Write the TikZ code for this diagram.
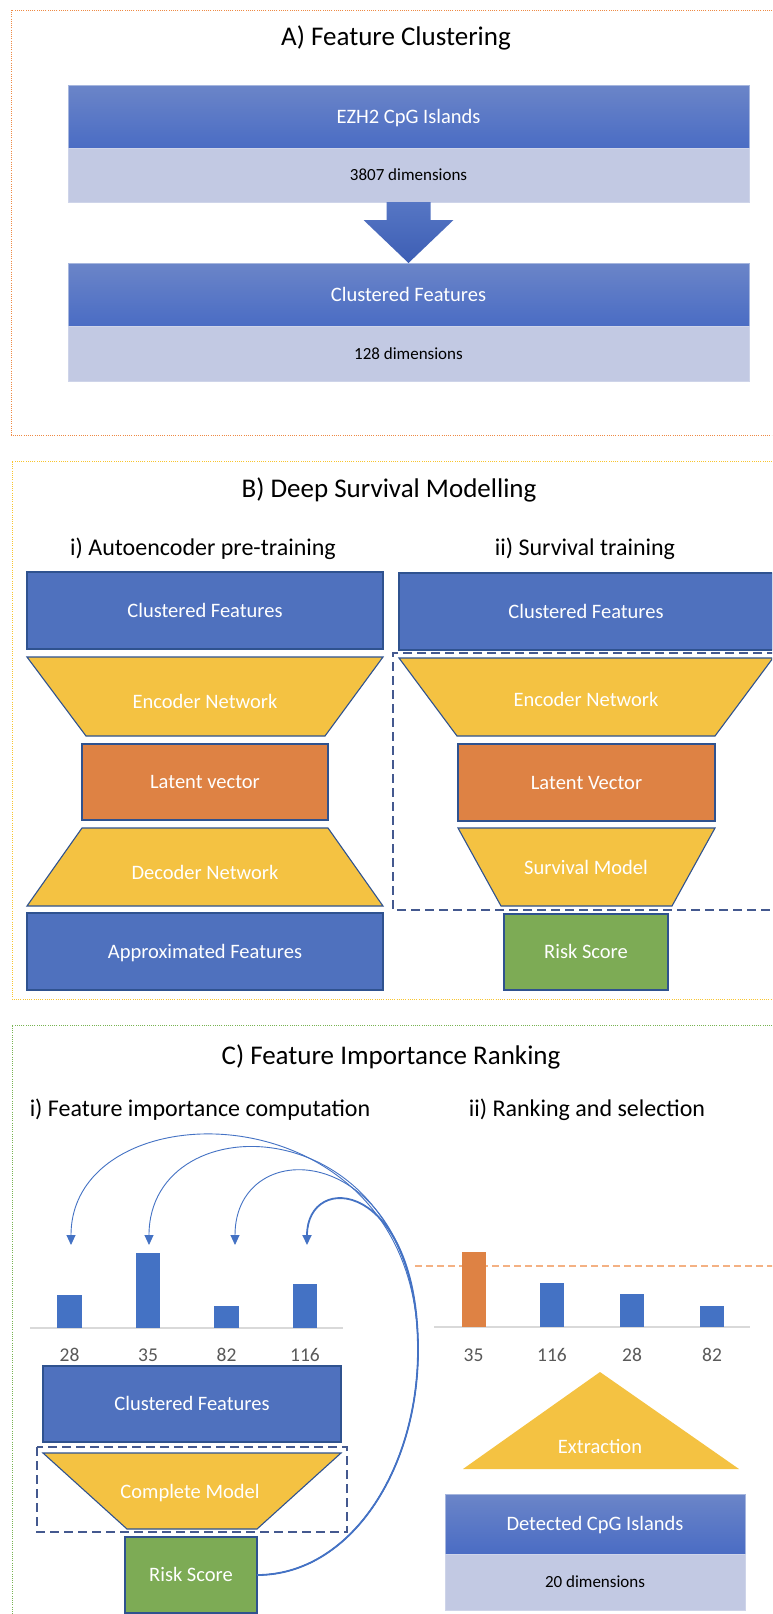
\documentclass[tikz,border=0pt]{standalone}
\usepackage{fontspec}
\setmainfont{Carlito}
\usetikzlibrary{arrows.meta,calc}
\usepackage{xcolor}
\definecolor{boxblue}{HTML}{4F71BE}
\definecolor{edgeblue}{HTML}{2F528F}
\definecolor{shadetop}{HTML}{6B85C8}
\definecolor{shadebot}{HTML}{4A6CC4}
\definecolor{arrowtop}{HTML}{5676C4}
\definecolor{arrowbot}{HTML}{3D5EB4}
\definecolor{paleblue}{HTML}{C2C9E3}
\definecolor{netyellow}{HTML}{F4C242}
\definecolor{latentorange}{HTML}{DE8244}
\definecolor{riskgreen}{HTML}{7DAB55}
\definecolor{rimorange}{HTML}{EE8A45}
\definecolor{rimyellow}{HTML}{F9C52E}
\definecolor{rimgreen}{HTML}{78B452}
\definecolor{dashblue}{HTML}{44598F}
\definecolor{axisgrey}{HTML}{D9D9D9}
\definecolor{tickgrey}{HTML}{595959}
\definecolor{cutorange}{HTML}{F4B183}
\definecolor{arcblue}{HTML}{4472C4}

\tikzset{
  every node/.style={inner sep=0pt,outer sep=0pt},
  headline/.style={anchor=base,font=\fontsize{27}{32}\selectfont},
  subhead/.style={anchor=base,font=\fontsize{24}{28}\selectfont},
  boxlabel/.style={text=white,font=\fontsize{20.5}{24}\selectfont,text height=13.2pt,text depth=0pt},
  dimlabel/.style={text=black,font=\fontsize{17}{20}\selectfont,text height=11pt,text depth=0pt},
  ticklabel/.style={text=tickgrey,font=\fontsize{19.5}{23}\selectfont,text height=12.3pt,text depth=0pt},
  featbox/.style={boxlabel,fill=boxblue,draw=edgeblue,line width=1.2pt,anchor=north west},
  latentbox/.style={featbox,fill=latentorange},
  riskbox/.style={featbox,fill=riskgreen},
  shadedbox/.style={boxlabel,top color=shadetop,bottom color=shadebot,draw=shadetop!60!white,line width=0.6pt,anchor=north west},
  dimbox/.style={dimlabel,fill=paleblue,draw=paleblue!80!white,line width=0.6pt,anchor=north west},
  netshape/.style={fill=netyellow,draw=edgeblue,line width=1.1pt},
  frame/.style={line width=1pt,dash pattern=on 1pt off 1.2pt},
  groupline/.style={draw=dashblue,line width=1.6pt,dash pattern=on 9pt off 5pt},
  cutline/.style={draw=cutorange,line width=1.4pt,dash pattern=on 7pt off 4pt},
  axisline/.style={draw=axisgrey,line width=1.5pt},
  importarc/.style={draw=arcblue,line width=0.9pt,-{Triangle[width=9pt,length=10pt]}}
}

\begin{document}
\begin{tikzpicture}[x=1pt,y=-1pt]
  \useasboundingbox (0,0) rectangle (772,1614);
  \fill[white] (0,0) rectangle (772,1614);
  \clip (0,0) rectangle (772,1614);

  % frames of the three panels, open to the right
  \draw[frame,rimorange] (790,10) -- (11,10) -- (11,435) -- (790,435);
  \draw[frame,rimyellow] (790,461) -- (12,461) -- (12,999) -- (790,999);
  \draw[frame,rimgreen] (790,1025) -- (12,1025) -- (12,1630);

  % A) clustering
  \node[headline] (titleA) at (396,45) {A) Feature Clustering};
  \node[shadedbox,minimum width=681pt,minimum height=63pt] (ezh) at (68,85) {EZH2 CpG Islands};
  \node[dimbox,minimum width=681pt,minimum height=54pt] (ezhdim) at (68,148) {3807 dimensions};
  \node[shadedbox,minimum width=681pt,minimum height=63pt] (clus) at (68,263) {Clustered Features};
  \node[dimbox,minimum width=681pt,minimum height=55pt] (clusdim) at (68,326) {128 dimensions};
  \shade[top color=arrowtop,bottom color=arrowbot]
    ($(ezhdim.south)+(-22,0)$) -- ($(ezhdim.south)+(22,0)$) -- ($(ezhdim.south)+(22,18)$)
    -- ($(ezhdim.south)+(45,18)$) -- (clus.north) -- ($(ezhdim.south)+(-45,18)$)
    -- ($(ezhdim.south)+(-22,18)$) -- cycle;

  % B) survival modelling
  \node[headline] (titleB) at (389,497) {B) Deep Survival Modelling};
  \node[subhead] (subBi) at (203,555) {i) Autoencoder pre-training};
  \node[subhead] (subBii) at (585,555) {ii) Survival training};

  \node[featbox,minimum width=356pt,minimum height=77pt] (cfL) at (27,572) {Clustered Features};
  \filldraw[netshape] (27,657) -- (383,657) -- (325,736) -- (86,736) -- cycle;
  \node[boxlabel] (encL) at (205,702) {Encoder Network};
  \node[latentbox,minimum width=246pt,minimum height=76pt] (latL) at (82,744) {Latent vector};
  \filldraw[netshape] (82,828) -- (328,828) -- (383,906) -- (27,906) -- cycle;
  \node[boxlabel] (decL) at (205,873) {Decoder Network};
  \node[featbox,minimum width=356pt,minimum height=77pt] (apxL) at (27,913) {Approximated Features};

  \node[featbox,minimum width=374pt,minimum height=77pt] (cfR) at (399,573) {Clustered Features};
  \filldraw[netshape] (399,658) -- (773,658) -- (715,736) -- (457,736) -- cycle;
  \node[boxlabel] (encR) at (586,700) {Encoder Network};
  \node[latentbox,minimum width=257pt,minimum height=77pt] (latR) at (458,744) {Latent Vector};
  \filldraw[netshape] (458,828) -- (715,828) -- (672,906) -- (501,906) -- cycle;
  \node[boxlabel] (survR) at (586,868) {Survival Model};
  \node[riskbox,minimum width=164pt,minimum height=76pt] (riskB) at (504,914) {Risk Score};
  \draw[groupline] (790,653) -- (393,653) -- (393,910) -- (790,910);

  % C) importance ranking
  \node[headline] (titleC) at (391,1064) {C) Feature Importance Ranking};
  \node[subhead] (subCi) at (200,1116) {i) Feature importance computation};
  \node[subhead] (subCii) at (587,1116) {ii) Ranking and selection};

  \draw[axisline] (30,1328) -- (343,1328);
  \foreach \f/\cx/\top in {28/69.5/1295,35/148/1253,82/226.5/1306,116/305/1284} {
    \fill[arcblue] (\cx-12.25,\top) rectangle (\cx+12.25,1328);
    \node[ticklabel] (imp\f) at (\cx,1355) {\f};
  }

  \node[featbox,minimum width=298pt,minimum height=76pt] (cfC) at (43,1366) {Clustered Features};
  \filldraw[netshape] (43,1453) -- (341,1453) -- (257,1529) -- (127,1529) -- cycle;
  \node[boxlabel] (compC) at (190,1492) {Complete Model};
  \node[riskbox,minimum width=132pt,minimum height=76pt] (riskC) at (125,1537) {Risk Score};
  \draw[groupline] (37,1447) rectangle (347,1532);

  % scores fed back onto each feature
  \coordinate (bend) at (418,1350);
  \foreach \f/\tx/\ca/\cb in {28/71/1085/1085,35/149/1105/1100,82/235/1140/1130} {
    \coordinate (tip\f) at (\tx,1245);
    \draw[importarc] (riskC.east) .. controls (350,1575) and (418,1470) .. (bend)
      .. controls (418,\ca) and (\tx,\cb) .. (tip\f);
  }
  \coordinate (tip116) at (307,1245);
  \draw[importarc,line width=1.8pt] (riskC.east) .. controls (350,1575) and (418,1470) .. (bend)
    .. controls (418,1180) and (307,1170) .. (tip116);

  % ranked bars and cut-off
  \draw[axisline] (434,1327) -- (750,1327);
  \draw[cutline] (415,1266) -- (790,1266);
  \foreach \f/\cx/\top/\c in {35/473.5/1252/latentorange,116/552/1283/arcblue,28/632/1294/arcblue,82/712/1306/arcblue} {
    \fill[\c] (\cx-12,\top) rectangle (\cx+12,1327);
    \node[ticklabel] (rank\f) at (\cx,1355) {\f};
  }

  \fill[netyellow] (600,1372) -- (739,1469) -- (463,1469) -- cycle;
  \node[boxlabel] (extr) at (600,1447) {Extraction};
  \node[shadedbox,minimum width=300pt,minimum height=60pt] (detc) at (445,1494) {Detected CpG Islands};
  \node[dimbox,minimum width=300pt,minimum height=56pt] (detdim) at (445,1554) {20 dimensions};
\end{tikzpicture}
\end{document}
